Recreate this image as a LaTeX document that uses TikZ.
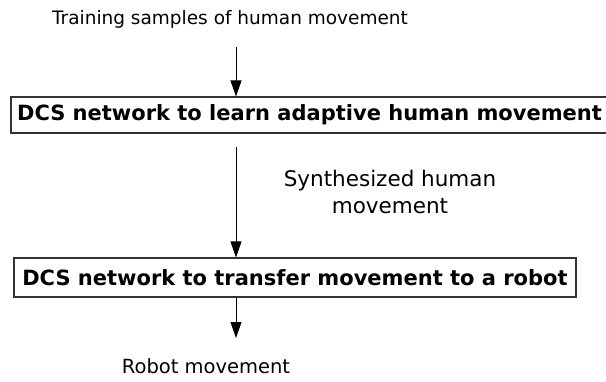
\documentclass[tikz,border=0pt]{standalone}
\usepackage{fontspec}
\setmainfont{DejaVu Sans}
\usetikzlibrary{arrows.meta}
\begin{document}
\begin{tikzpicture}[x=1pt,y=-1pt,
  lbl/.style={inner sep=0pt, align=center},
  stage/.style={draw=black!80, line width=1.1pt, inner sep=0pt, font=\bfseries\fontsize{21}{24}\selectfont},
  flow/.style={draw=black, line width=0.8pt, -{Triangle[width=11pt,length=16pt]}}]
  \useasboundingbox (0,0) rectangle (606,381);
  % input, processing stages, output
  \node[lbl, anchor=base, font=\fontsize{18.5}{22}\selectfont] (train) at (230,24) {Training samples of human movement};
  \node[stage, minimum width=597pt, minimum height=36pt] (learn) at (309.5,115) {DCS network to learn adaptive human movement};
  \node[stage, minimum width=562pt, minimum height=39pt] (transfer) at (295,277.5) {DCS network to transfer movement to a robot};
  \node[lbl, anchor=base, font=\fontsize{19.5}{22}\selectfont] (robot) at (206,373.5) {Robot movement};
  \node[lbl, font=\fontsize{21.5}{27}\selectfont] (synth) at (390,192) {Synthesized human\\movement};
  % arrow start and end points
  \coordinate (in) at (236,47);
  \coordinate (mid) at (236,147);
  \coordinate (out) at (236,338);
  \draw[flow] (in) -- (in |- learn.north);
  \draw[flow] (mid) -- (mid |- transfer.north);
  \draw[flow] (transfer.south -| out) -- (out);
\end{tikzpicture}
\end{document}
